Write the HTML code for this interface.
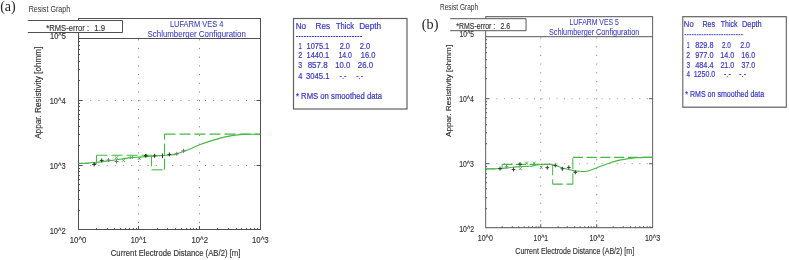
<!DOCTYPE html>
<html><head><meta charset="utf-8"><style>
html,body{margin:0;padding:0;background:#fff;}
body{width:789px;height:260px;overflow:hidden;position:relative;}
svg{position:absolute;left:0;top:0;filter:blur(0.3px);}
svg text{font-family:'Liberation Sans', sans-serif;}
</style></head><body>
<svg width="789" height="260" viewBox="0 0 789 260">
<rect width="789" height="260" fill="#fff"/>
<g id="ga">
<rect x="78.5" y="18.5" width="182" height="211" fill="#fff" stroke="#505050" stroke-width="1"/>
<line x1="78.5" y1="38.5" x2="260.5" y2="38.5" stroke="#505050" stroke-width="1" />
<line x1="82" y1="165.5" x2="257" y2="165.5" stroke="#8a8a8a" stroke-width="1" stroke-dasharray="1 7.2"/>
<line x1="82" y1="100.5" x2="257" y2="100.5" stroke="#8a8a8a" stroke-width="1" stroke-dasharray="1 7.2"/>
<line x1="138.5" y1="39.2" x2="138.5" y2="228" stroke="#8a8a8a" stroke-width="1" stroke-dasharray="1.2 7.5"/>
<line x1="199.5" y1="39.2" x2="199.5" y2="228" stroke="#8a8a8a" stroke-width="1" stroke-dasharray="1.2 7.5"/>
<line x1="78.5" y1="210.5" x2="80" y2="210.5" stroke="#505050" stroke-width="1" />
<line x1="78.5" y1="199.5" x2="80" y2="199.5" stroke="#505050" stroke-width="1" />
<line x1="78.5" y1="190.5" x2="80" y2="190.5" stroke="#505050" stroke-width="1" />
<line x1="78.5" y1="184.5" x2="80" y2="184.5" stroke="#505050" stroke-width="1" />
<line x1="78.5" y1="179.5" x2="80" y2="179.5" stroke="#505050" stroke-width="1" />
<line x1="78.5" y1="175.5" x2="80" y2="175.5" stroke="#505050" stroke-width="1" />
<line x1="78.5" y1="171.5" x2="80" y2="171.5" stroke="#505050" stroke-width="1" />
<line x1="78.5" y1="168.5" x2="80" y2="168.5" stroke="#505050" stroke-width="1" />
<line x1="78.5" y1="165.5" x2="82" y2="165.5" stroke="#505050" stroke-width="1" />
<line x1="256.5" y1="165.5" x2="260.5" y2="165.5" stroke="#505050" stroke-width="1" />
<line x1="78.5" y1="145.5" x2="80" y2="145.5" stroke="#505050" stroke-width="1" />
<line x1="78.5" y1="134.5" x2="80" y2="134.5" stroke="#505050" stroke-width="1" />
<line x1="78.5" y1="126.5" x2="80" y2="126.5" stroke="#505050" stroke-width="1" />
<line x1="78.5" y1="119.5" x2="80" y2="119.5" stroke="#505050" stroke-width="1" />
<line x1="78.5" y1="114.5" x2="80" y2="114.5" stroke="#505050" stroke-width="1" />
<line x1="78.5" y1="110.5" x2="80" y2="110.5" stroke="#505050" stroke-width="1" />
<line x1="78.5" y1="106.5" x2="80" y2="106.5" stroke="#505050" stroke-width="1" />
<line x1="78.5" y1="103.5" x2="80" y2="103.5" stroke="#505050" stroke-width="1" />
<line x1="78.5" y1="100.5" x2="82" y2="100.5" stroke="#505050" stroke-width="1" />
<line x1="256.5" y1="100.5" x2="260.5" y2="100.5" stroke="#505050" stroke-width="1" />
<line x1="78.5" y1="80.5" x2="80" y2="80.5" stroke="#505050" stroke-width="1" />
<line x1="78.5" y1="69.5" x2="80" y2="69.5" stroke="#505050" stroke-width="1" />
<line x1="78.5" y1="61.5" x2="80" y2="61.5" stroke="#505050" stroke-width="1" />
<line x1="78.5" y1="54.5" x2="80" y2="54.5" stroke="#505050" stroke-width="1" />
<line x1="78.5" y1="49.5" x2="80" y2="49.5" stroke="#505050" stroke-width="1" />
<line x1="78.5" y1="45.5" x2="80" y2="45.5" stroke="#505050" stroke-width="1" />
<line x1="78.5" y1="41.5" x2="80" y2="41.5" stroke="#505050" stroke-width="1" />
<line x1="96.5" y1="228" x2="96.5" y2="229.5" stroke="#505050" stroke-width="1" />
<line x1="107.5" y1="228" x2="107.5" y2="229.5" stroke="#505050" stroke-width="1" />
<line x1="114.5" y1="228" x2="114.5" y2="229.5" stroke="#505050" stroke-width="1" />
<line x1="120.5" y1="228" x2="120.5" y2="229.5" stroke="#505050" stroke-width="1" />
<line x1="125.5" y1="228" x2="125.5" y2="229.5" stroke="#505050" stroke-width="1" />
<line x1="129.5" y1="228" x2="129.5" y2="229.5" stroke="#505050" stroke-width="1" />
<line x1="133.5" y1="228" x2="133.5" y2="229.5" stroke="#505050" stroke-width="1" />
<line x1="136.5" y1="228" x2="136.5" y2="229.5" stroke="#505050" stroke-width="1" />
<line x1="138.5" y1="226" x2="138.5" y2="229.5" stroke="#505050" stroke-width="1" />
<line x1="157.5" y1="228" x2="157.5" y2="229.5" stroke="#505050" stroke-width="1" />
<line x1="167.5" y1="228" x2="167.5" y2="229.5" stroke="#505050" stroke-width="1" />
<line x1="175.5" y1="228" x2="175.5" y2="229.5" stroke="#505050" stroke-width="1" />
<line x1="181.5" y1="228" x2="181.5" y2="229.5" stroke="#505050" stroke-width="1" />
<line x1="186.5" y1="228" x2="186.5" y2="229.5" stroke="#505050" stroke-width="1" />
<line x1="190.5" y1="228" x2="190.5" y2="229.5" stroke="#505050" stroke-width="1" />
<line x1="193.5" y1="228" x2="193.5" y2="229.5" stroke="#505050" stroke-width="1" />
<line x1="196.5" y1="228" x2="196.5" y2="229.5" stroke="#505050" stroke-width="1" />
<line x1="199.5" y1="226" x2="199.5" y2="229.5" stroke="#505050" stroke-width="1" />
<line x1="217.5" y1="228" x2="217.5" y2="229.5" stroke="#505050" stroke-width="1" />
<line x1="228.5" y1="228" x2="228.5" y2="229.5" stroke="#505050" stroke-width="1" />
<line x1="236.5" y1="228" x2="236.5" y2="229.5" stroke="#505050" stroke-width="1" />
<line x1="241.5" y1="228" x2="241.5" y2="229.5" stroke="#505050" stroke-width="1" />
<line x1="246.5" y1="228" x2="246.5" y2="229.5" stroke="#505050" stroke-width="1" />
<line x1="250.5" y1="228" x2="250.5" y2="229.5" stroke="#505050" stroke-width="1" />
<line x1="254.5" y1="228" x2="254.5" y2="229.5" stroke="#505050" stroke-width="1" />
<line x1="257.5" y1="228" x2="257.5" y2="229.5" stroke="#505050" stroke-width="1" />
<rect x="27.8" y="20.5" width="94.7" height="12" fill="#fff"/>
<path d="M27.8,20.5H122.5V32.5H27.8" fill="none" stroke="#505050" stroke-width="1"/>
<text x="50.04" y="39.00" font-size="9.4" fill="#333" textLength="15.87" lengthAdjust="spacingAndGlyphs" style="font-family:'Liberation Sans', sans-serif" stroke="#333" stroke-width="0.15" >10^5</text>
<text x="49.64" y="103.80" font-size="9.4" fill="#333" textLength="15.90" lengthAdjust="spacingAndGlyphs" style="font-family:'Liberation Sans', sans-serif" stroke="#333" stroke-width="0.15" >10^4</text>
<text x="49.64" y="168.60" font-size="9.4" fill="#333" textLength="16.02" lengthAdjust="spacingAndGlyphs" style="font-family:'Liberation Sans', sans-serif" stroke="#333" stroke-width="0.15" >10^3</text>
<text x="49.63" y="233.60" font-size="9.4" fill="#333" textLength="16.17" lengthAdjust="spacingAndGlyphs" style="font-family:'Liberation Sans', sans-serif" stroke="#333" stroke-width="0.15" >10^2</text>
<text x="69.82" y="242.70" font-size="9.4" fill="#333" textLength="16.51" lengthAdjust="spacingAndGlyphs" style="font-family:'Liberation Sans', sans-serif" stroke="#333" stroke-width="0.15" >10^0</text>
<text x="130.75" y="242.80" font-size="9.4" fill="#333" textLength="15.74" lengthAdjust="spacingAndGlyphs" style="font-family:'Liberation Sans', sans-serif" stroke="#333" stroke-width="0.15" >10^1</text>
<text x="191.53" y="242.80" font-size="9.4" fill="#333" textLength="16.38" lengthAdjust="spacingAndGlyphs" style="font-family:'Liberation Sans', sans-serif" stroke="#333" stroke-width="0.15" >10^2</text>
<text x="252.02" y="242.80" font-size="9.4" fill="#333" textLength="16.66" lengthAdjust="spacingAndGlyphs" style="font-family:'Liberation Sans', sans-serif" stroke="#333" stroke-width="0.15" >10^3</text>
<text x="110.81" y="255.50" font-size="9.2" fill="#333" textLength="129.56" lengthAdjust="spacingAndGlyphs" style="font-family:'Liberation Sans', sans-serif" stroke="#333" stroke-width="0.15" >Current Electrode Distance (AB/2) [m]</text>
<g transform="translate(41.2,139) rotate(-90)"><text x="0.16" y="0.00" font-size="8.6" fill="#333" textLength="92.23" lengthAdjust="spacingAndGlyphs" style="font-family:'Liberation Sans', sans-serif" stroke="#333" stroke-width="0.15" >Appar. Resistivity [ohmm]</text></g>
<text x="28.63" y="11.60" font-size="8.6" fill="#303038" textLength="41.54" lengthAdjust="spacingAndGlyphs" style="font-family:'Liberation Sans', sans-serif" >Resist Graph</text>
<text x="46.35" y="30.60" font-size="9.4" fill="#333" textLength="42.65" lengthAdjust="spacingAndGlyphs" style="font-family:'Liberation Sans', sans-serif" stroke="#333" stroke-width="0.15" >*RMS-error :</text>
<text x="94.32" y="30.60" font-size="9.4" fill="#333" textLength="10.84" lengthAdjust="spacingAndGlyphs" style="font-family:'Liberation Sans', sans-serif" stroke="#333" stroke-width="0.15" >1.9</text>
<text x="169.90" y="26.50" font-size="9.2" fill="#3636c0" textLength="53.62" lengthAdjust="spacingAndGlyphs" style="font-family:'Liberation Sans', sans-serif" stroke="#3636c0" stroke-width="0.05" >LUFARM VES 4</text>
<text x="147.54" y="36.50" font-size="9.2" fill="#3636c0" textLength="98.28" lengthAdjust="spacingAndGlyphs" style="font-family:'Liberation Sans', sans-serif" stroke="#3636c0" stroke-width="0.05" >Schlumberger Configuration</text>
<rect x="293.5" y="18.5" width="113.5" height="90.5" fill="#fff" stroke="#606060" stroke-width="1.2"/>
<text x="295.64" y="28.50" font-size="9.3" fill="#3636c0" textLength="10.51" lengthAdjust="spacingAndGlyphs" style="font-family:'Liberation Sans', sans-serif" stroke="#3636c0" stroke-width="0.2" >No</text>
<text x="315.55" y="28.50" font-size="9.3" fill="#3636c0" textLength="14.53" lengthAdjust="spacingAndGlyphs" style="font-family:'Liberation Sans', sans-serif" stroke="#3636c0" stroke-width="0.2" >Res</text>
<text x="336.01" y="28.50" font-size="9.3" fill="#3636c0" textLength="18.08" lengthAdjust="spacingAndGlyphs" style="font-family:'Liberation Sans', sans-serif" stroke="#3636c0" stroke-width="0.2" >Thick</text>
<text x="359.14" y="28.50" font-size="9.3" fill="#3636c0" textLength="21.92" lengthAdjust="spacingAndGlyphs" style="font-family:'Liberation Sans', sans-serif" stroke="#3636c0" stroke-width="0.2" >Depth</text>
<line x1="296" y1="36.5" x2="362" y2="36.5" stroke="#3636c0" stroke-width="1" stroke-dasharray="1.9 0.77"/>
<text x="298.46" y="48.50" font-size="9.3" fill="#3636c0" textLength="3.23" lengthAdjust="spacingAndGlyphs" style="font-family:'Liberation Sans', sans-serif" stroke="#3636c0" stroke-width="0.2" >1</text>
<text x="306.54" y="48.50" font-size="9.3" fill="#3636c0" textLength="22.72" lengthAdjust="spacingAndGlyphs" style="font-family:'Liberation Sans', sans-serif" stroke="#3636c0" stroke-width="0.2" >1075.1</text>
<text x="339.63" y="48.50" font-size="9.3" fill="#3636c0" textLength="10.27" lengthAdjust="spacingAndGlyphs" style="font-family:'Liberation Sans', sans-serif" stroke="#3636c0" stroke-width="0.2" >2.0</text>
<text x="359.72" y="48.50" font-size="9.3" fill="#3636c0" textLength="10.48" lengthAdjust="spacingAndGlyphs" style="font-family:'Liberation Sans', sans-serif" stroke="#3636c0" stroke-width="0.2" >2.0</text>
<text x="298.14" y="58.40" font-size="9.3" fill="#3636c0" textLength="4.03" lengthAdjust="spacingAndGlyphs" style="font-family:'Liberation Sans', sans-serif" stroke="#3636c0" stroke-width="0.2" >2</text>
<text x="306.54" y="58.40" font-size="9.3" fill="#3636c0" textLength="22.72" lengthAdjust="spacingAndGlyphs" style="font-family:'Liberation Sans', sans-serif" stroke="#3636c0" stroke-width="0.2" >1440.1</text>
<text x="338.48" y="58.40" font-size="9.3" fill="#3636c0" textLength="13.40" lengthAdjust="spacingAndGlyphs" style="font-family:'Liberation Sans', sans-serif" stroke="#3636c0" stroke-width="0.2" >14.0</text>
<text x="360.74" y="58.40" font-size="9.3" fill="#3636c0" textLength="14.57" lengthAdjust="spacingAndGlyphs" style="font-family:'Liberation Sans', sans-serif" stroke="#3636c0" stroke-width="0.2" >16.0</text>
<text x="298.22" y="68.30" font-size="9.3" fill="#3636c0" textLength="3.91" lengthAdjust="spacingAndGlyphs" style="font-family:'Liberation Sans', sans-serif" stroke="#3636c0" stroke-width="0.2" >3</text>
<text x="307.64" y="68.30" font-size="9.3" fill="#3636c0" textLength="20.00" lengthAdjust="spacingAndGlyphs" style="font-family:'Liberation Sans', sans-serif" stroke="#3636c0" stroke-width="0.2" >857.8</text>
<text x="335.22" y="68.30" font-size="9.3" fill="#3636c0" textLength="15.00" lengthAdjust="spacingAndGlyphs" style="font-family:'Liberation Sans', sans-serif" stroke="#3636c0" stroke-width="0.2" >10.0</text>
<text x="357.81" y="68.30" font-size="9.3" fill="#3636c0" textLength="15.32" lengthAdjust="spacingAndGlyphs" style="font-family:'Liberation Sans', sans-serif" stroke="#3636c0" stroke-width="0.2" >26.0</text>
<text x="298.31" y="78.60" font-size="9.3" fill="#3636c0" textLength="4.12" lengthAdjust="spacingAndGlyphs" style="font-family:'Liberation Sans', sans-serif" stroke="#3636c0" stroke-width="0.2" >4</text>
<text x="306.09" y="78.60" font-size="9.3" fill="#3636c0" textLength="23.38" lengthAdjust="spacingAndGlyphs" style="font-family:'Liberation Sans', sans-serif" stroke="#3636c0" stroke-width="0.2" >3045.1</text>
<text x="339.57" y="78.60" font-size="9.3" fill="#3636c0" textLength="6.96" lengthAdjust="spacingAndGlyphs" style="font-family:'Liberation Sans', sans-serif" stroke="#3636c0" stroke-width="0.2" >-.-</text>
<text x="356.17" y="78.60" font-size="9.3" fill="#3636c0" textLength="6.96" lengthAdjust="spacingAndGlyphs" style="font-family:'Liberation Sans', sans-serif" stroke="#3636c0" stroke-width="0.2" >-.-</text>
<text x="295.95" y="99.30" font-size="9.3" fill="#3636c0" textLength="86.08" lengthAdjust="spacingAndGlyphs" style="font-family:'Liberation Sans', sans-serif" stroke="#3636c0" stroke-width="0.2" >* RMS on smoothed data</text>
<line x1="78.30" y1="163.46" x2="96.50" y2="163.46" stroke="#46b846" stroke-width="1.1" stroke-dasharray="11 4"/>
<line x1="96.50" y1="163.46" x2="96.50" y2="155.22" stroke="#46b846" stroke-width="1.1" stroke-dasharray="11 4"/>
<line x1="96.50" y1="155.22" x2="151.50" y2="155.22" stroke="#46b846" stroke-width="1.1" stroke-dasharray="11 4"/>
<line x1="151.50" y1="155.22" x2="151.50" y2="169.82" stroke="#46b846" stroke-width="1.1" stroke-dasharray="11 4"/>
<line x1="151.50" y1="169.82" x2="164.50" y2="169.82" stroke="#46b846" stroke-width="1.1" stroke-dasharray="11 4"/>
<line x1="164.50" y1="169.82" x2="164.50" y2="134.11" stroke="#46b846" stroke-width="1.1" stroke-dasharray="11 4"/>
<line x1="164.50" y1="134.11" x2="260.50" y2="134.11" stroke="#46b846" stroke-width="1.1" stroke-dasharray="11 4"/>
<path d="M78.50,163.40 C80.00,163.33 84.50,163.18 87.50,163.00 C90.50,162.82 92.65,162.70 96.50,162.30 C100.35,161.90 106.35,161.15 110.60,160.60 C114.85,160.05 118.53,159.50 122.00,159.00 C125.47,158.50 128.40,157.92 131.40,157.60 C134.40,157.28 136.83,157.32 140.00,157.10 C143.17,156.88 146.37,156.58 150.40,156.30 C154.43,156.02 160.77,155.62 164.20,155.40 C167.63,155.18 168.90,155.25 171.00,155.00 C173.10,154.75 174.72,154.50 176.80,153.90 C178.88,153.30 181.30,152.22 183.50,151.40 C185.70,150.58 187.33,150.10 190.00,149.00 C192.67,147.90 195.45,146.32 199.50,144.80 C203.55,143.28 209.78,141.27 214.30,139.90 C218.82,138.53 222.32,137.48 226.60,136.60 C230.88,135.72 236.10,134.98 240.00,134.60 C243.90,134.22 246.58,134.35 250.00,134.30 C253.42,134.25 258.75,134.30 260.50,134.30" fill="none" stroke="#46b846" stroke-width="1.1"/>
<path d="M92.20,164.50H96.20M94.20,162.50V166.50" stroke="#333" stroke-width="1" fill="none"/>
<path d="M99.70,160.40H103.70M101.70,158.40V162.40" stroke="#333" stroke-width="1" fill="none"/>
<path d="M152.60,155.80H156.60M154.60,153.80V157.80" stroke="#333" stroke-width="1" fill="none"/>
<path d="M167.40,154.40H171.40M169.40,152.40V156.40" stroke="#333" stroke-width="1" fill="none"/>
<path d="M106.40,160.00H110.40M108.40,158.00V162.00" stroke="#777" stroke-width="1" fill="none"/>
<path d="M114.50,161.50H118.50M116.50,159.50V163.50" stroke="#777" stroke-width="1" fill="none"/>
<path d="M174.80,153.80H178.80M176.80,151.80V155.80" stroke="#777" stroke-width="1" fill="none"/>
<path d="M181.50,150.80H185.50M183.50,148.80V152.80" stroke="#777" stroke-width="1" fill="none"/>
<path d="M144.00,155.80H147.60M145.80,154.00V157.60" stroke="#1f4f1f" stroke-width="1.6" fill="none"/>
<line x1="162.5" y1="153.5" x2="162.5" y2="158.2" stroke="#333" stroke-width="1" />
<path d="M115.00,156.20L118.00,159.20M115.00,159.20L118.00,156.20" stroke="#46b846" stroke-width="1" fill="none"/>
<path d="M121.90,158.90L124.90,161.90M121.90,161.90L124.90,158.90" stroke="#46b846" stroke-width="1" fill="none"/>
<path d="M129.90,156.00L132.90,159.00M129.90,159.00L132.90,156.00" stroke="#46b846" stroke-width="1" fill="none"/>
<path d="M137.70,157.00L140.70,160.00M137.70,160.00L140.70,157.00" stroke="#46b846" stroke-width="1" fill="none"/>
</g>
<g id="gb" transform="translate(413.66,-1.8) scale(0.9175,1)">
<rect x="78.5" y="18.5" width="182" height="211" fill="#fff" stroke="#505050" stroke-width="1"/>
<line x1="78.5" y1="38.5" x2="260.5" y2="38.5" stroke="#505050" stroke-width="1" />
<line x1="82" y1="165.5" x2="257" y2="165.5" stroke="#8a8a8a" stroke-width="1" stroke-dasharray="1 7.2"/>
<line x1="82" y1="100.5" x2="257" y2="100.5" stroke="#8a8a8a" stroke-width="1" stroke-dasharray="1 7.2"/>
<line x1="138.5" y1="39.2" x2="138.5" y2="228" stroke="#8a8a8a" stroke-width="1" stroke-dasharray="1.2 7.5"/>
<line x1="199.5" y1="39.2" x2="199.5" y2="228" stroke="#8a8a8a" stroke-width="1" stroke-dasharray="1.2 7.5"/>
<line x1="78.5" y1="210.5" x2="80" y2="210.5" stroke="#505050" stroke-width="1" />
<line x1="78.5" y1="199.5" x2="80" y2="199.5" stroke="#505050" stroke-width="1" />
<line x1="78.5" y1="190.5" x2="80" y2="190.5" stroke="#505050" stroke-width="1" />
<line x1="78.5" y1="184.5" x2="80" y2="184.5" stroke="#505050" stroke-width="1" />
<line x1="78.5" y1="179.5" x2="80" y2="179.5" stroke="#505050" stroke-width="1" />
<line x1="78.5" y1="175.5" x2="80" y2="175.5" stroke="#505050" stroke-width="1" />
<line x1="78.5" y1="171.5" x2="80" y2="171.5" stroke="#505050" stroke-width="1" />
<line x1="78.5" y1="168.5" x2="80" y2="168.5" stroke="#505050" stroke-width="1" />
<line x1="78.5" y1="165.5" x2="82" y2="165.5" stroke="#505050" stroke-width="1" />
<line x1="256.5" y1="165.5" x2="260.5" y2="165.5" stroke="#505050" stroke-width="1" />
<line x1="78.5" y1="145.5" x2="80" y2="145.5" stroke="#505050" stroke-width="1" />
<line x1="78.5" y1="134.5" x2="80" y2="134.5" stroke="#505050" stroke-width="1" />
<line x1="78.5" y1="126.5" x2="80" y2="126.5" stroke="#505050" stroke-width="1" />
<line x1="78.5" y1="119.5" x2="80" y2="119.5" stroke="#505050" stroke-width="1" />
<line x1="78.5" y1="114.5" x2="80" y2="114.5" stroke="#505050" stroke-width="1" />
<line x1="78.5" y1="110.5" x2="80" y2="110.5" stroke="#505050" stroke-width="1" />
<line x1="78.5" y1="106.5" x2="80" y2="106.5" stroke="#505050" stroke-width="1" />
<line x1="78.5" y1="103.5" x2="80" y2="103.5" stroke="#505050" stroke-width="1" />
<line x1="78.5" y1="100.5" x2="82" y2="100.5" stroke="#505050" stroke-width="1" />
<line x1="256.5" y1="100.5" x2="260.5" y2="100.5" stroke="#505050" stroke-width="1" />
<line x1="78.5" y1="80.5" x2="80" y2="80.5" stroke="#505050" stroke-width="1" />
<line x1="78.5" y1="69.5" x2="80" y2="69.5" stroke="#505050" stroke-width="1" />
<line x1="78.5" y1="61.5" x2="80" y2="61.5" stroke="#505050" stroke-width="1" />
<line x1="78.5" y1="54.5" x2="80" y2="54.5" stroke="#505050" stroke-width="1" />
<line x1="78.5" y1="49.5" x2="80" y2="49.5" stroke="#505050" stroke-width="1" />
<line x1="78.5" y1="45.5" x2="80" y2="45.5" stroke="#505050" stroke-width="1" />
<line x1="78.5" y1="41.5" x2="80" y2="41.5" stroke="#505050" stroke-width="1" />
<line x1="96.5" y1="228" x2="96.5" y2="229.5" stroke="#505050" stroke-width="1" />
<line x1="107.5" y1="228" x2="107.5" y2="229.5" stroke="#505050" stroke-width="1" />
<line x1="114.5" y1="228" x2="114.5" y2="229.5" stroke="#505050" stroke-width="1" />
<line x1="120.5" y1="228" x2="120.5" y2="229.5" stroke="#505050" stroke-width="1" />
<line x1="125.5" y1="228" x2="125.5" y2="229.5" stroke="#505050" stroke-width="1" />
<line x1="129.5" y1="228" x2="129.5" y2="229.5" stroke="#505050" stroke-width="1" />
<line x1="133.5" y1="228" x2="133.5" y2="229.5" stroke="#505050" stroke-width="1" />
<line x1="136.5" y1="228" x2="136.5" y2="229.5" stroke="#505050" stroke-width="1" />
<line x1="138.5" y1="226" x2="138.5" y2="229.5" stroke="#505050" stroke-width="1" />
<line x1="157.5" y1="228" x2="157.5" y2="229.5" stroke="#505050" stroke-width="1" />
<line x1="167.5" y1="228" x2="167.5" y2="229.5" stroke="#505050" stroke-width="1" />
<line x1="175.5" y1="228" x2="175.5" y2="229.5" stroke="#505050" stroke-width="1" />
<line x1="181.5" y1="228" x2="181.5" y2="229.5" stroke="#505050" stroke-width="1" />
<line x1="186.5" y1="228" x2="186.5" y2="229.5" stroke="#505050" stroke-width="1" />
<line x1="190.5" y1="228" x2="190.5" y2="229.5" stroke="#505050" stroke-width="1" />
<line x1="193.5" y1="228" x2="193.5" y2="229.5" stroke="#505050" stroke-width="1" />
<line x1="196.5" y1="228" x2="196.5" y2="229.5" stroke="#505050" stroke-width="1" />
<line x1="199.5" y1="226" x2="199.5" y2="229.5" stroke="#505050" stroke-width="1" />
<line x1="217.5" y1="228" x2="217.5" y2="229.5" stroke="#505050" stroke-width="1" />
<line x1="228.5" y1="228" x2="228.5" y2="229.5" stroke="#505050" stroke-width="1" />
<line x1="236.5" y1="228" x2="236.5" y2="229.5" stroke="#505050" stroke-width="1" />
<line x1="241.5" y1="228" x2="241.5" y2="229.5" stroke="#505050" stroke-width="1" />
<line x1="246.5" y1="228" x2="246.5" y2="229.5" stroke="#505050" stroke-width="1" />
<line x1="250.5" y1="228" x2="250.5" y2="229.5" stroke="#505050" stroke-width="1" />
<line x1="254.5" y1="228" x2="254.5" y2="229.5" stroke="#505050" stroke-width="1" />
<line x1="257.5" y1="228" x2="257.5" y2="229.5" stroke="#505050" stroke-width="1" />
<rect x="27.8" y="20.5" width="94.7" height="12" fill="#fff"/>
<path d="M27.8,20.5H122.5V32.5H27.8" fill="none" stroke="#505050" stroke-width="1"/>
<text x="50.04" y="39.00" font-size="9.4" fill="#333" textLength="15.87" lengthAdjust="spacingAndGlyphs" style="font-family:'Liberation Sans', sans-serif" stroke="#333" stroke-width="0.15" >10^5</text>
<text x="49.64" y="103.80" font-size="9.4" fill="#333" textLength="15.90" lengthAdjust="spacingAndGlyphs" style="font-family:'Liberation Sans', sans-serif" stroke="#333" stroke-width="0.15" >10^4</text>
<text x="49.64" y="168.60" font-size="9.4" fill="#333" textLength="16.02" lengthAdjust="spacingAndGlyphs" style="font-family:'Liberation Sans', sans-serif" stroke="#333" stroke-width="0.15" >10^3</text>
<text x="49.63" y="233.60" font-size="9.4" fill="#333" textLength="16.17" lengthAdjust="spacingAndGlyphs" style="font-family:'Liberation Sans', sans-serif" stroke="#333" stroke-width="0.15" >10^2</text>
<text x="69.82" y="242.70" font-size="9.4" fill="#333" textLength="16.51" lengthAdjust="spacingAndGlyphs" style="font-family:'Liberation Sans', sans-serif" stroke="#333" stroke-width="0.15" >10^0</text>
<text x="130.75" y="242.80" font-size="9.4" fill="#333" textLength="15.74" lengthAdjust="spacingAndGlyphs" style="font-family:'Liberation Sans', sans-serif" stroke="#333" stroke-width="0.15" >10^1</text>
<text x="191.53" y="242.80" font-size="9.4" fill="#333" textLength="16.38" lengthAdjust="spacingAndGlyphs" style="font-family:'Liberation Sans', sans-serif" stroke="#333" stroke-width="0.15" >10^2</text>
<text x="252.02" y="242.80" font-size="9.4" fill="#333" textLength="16.66" lengthAdjust="spacingAndGlyphs" style="font-family:'Liberation Sans', sans-serif" stroke="#333" stroke-width="0.15" >10^3</text>
<text x="110.81" y="255.50" font-size="9.2" fill="#333" textLength="129.56" lengthAdjust="spacingAndGlyphs" style="font-family:'Liberation Sans', sans-serif" stroke="#333" stroke-width="0.15" >Current Electrode Distance (AB/2) [m]</text>
<g transform="translate(41.2,139) rotate(-90)"><text x="0.16" y="0.00" font-size="8.6" fill="#333" textLength="92.23" lengthAdjust="spacingAndGlyphs" style="font-family:'Liberation Sans', sans-serif" stroke="#333" stroke-width="0.15" >Appar. Resistivity [ohmm]</text></g>
<text x="28.63" y="11.60" font-size="8.6" fill="#303038" textLength="41.54" lengthAdjust="spacingAndGlyphs" style="font-family:'Liberation Sans', sans-serif" >Resist Graph</text>
<text x="46.35" y="30.60" font-size="9.4" fill="#333" textLength="42.65" lengthAdjust="spacingAndGlyphs" style="font-family:'Liberation Sans', sans-serif" stroke="#333" stroke-width="0.15" >*RMS-error :</text>
<text x="94.52" y="30.60" font-size="9.4" fill="#333" textLength="10.63" lengthAdjust="spacingAndGlyphs" style="font-family:'Liberation Sans', sans-serif" stroke="#333" stroke-width="0.15" >2.6</text>
<text x="169.90" y="26.50" font-size="9.2" fill="#3636c0" textLength="53.69" lengthAdjust="spacingAndGlyphs" style="font-family:'Liberation Sans', sans-serif" stroke="#3636c0" stroke-width="0.05" >LUFARM VES 5</text>
<text x="147.54" y="36.50" font-size="9.2" fill="#3636c0" textLength="98.28" lengthAdjust="spacingAndGlyphs" style="font-family:'Liberation Sans', sans-serif" stroke="#3636c0" stroke-width="0.05" >Schlumberger Configuration</text>
<rect x="293.34" y="18.5" width="112.81" height="90.5" fill="#fff" stroke="#606060" stroke-width="1.2"/>
<text x="294.51" y="28.50" font-size="9.3" fill="#3636c0" textLength="10.66" lengthAdjust="spacingAndGlyphs" style="font-family:'Liberation Sans', sans-serif" stroke="#3636c0" stroke-width="0.2" >No</text>
<text x="314.72" y="28.50" font-size="9.3" fill="#3636c0" textLength="13.78" lengthAdjust="spacingAndGlyphs" style="font-family:'Liberation Sans', sans-serif" stroke="#3636c0" stroke-width="0.2" >Res</text>
<text x="334.77" y="28.50" font-size="9.3" fill="#3636c0" textLength="18.09" lengthAdjust="spacingAndGlyphs" style="font-family:'Liberation Sans', sans-serif" stroke="#3636c0" stroke-width="0.2" >Thick</text>
<text x="357.86" y="28.50" font-size="9.3" fill="#3636c0" textLength="21.51" lengthAdjust="spacingAndGlyphs" style="font-family:'Liberation Sans', sans-serif" stroke="#3636c0" stroke-width="0.2" >Depth</text>
<line x1="295.19" y1="36.5" x2="359.50" y2="36.5" stroke="#3636c0" stroke-width="1" stroke-dasharray="1.9 0.77"/>
<text x="297.60" y="49.70" font-size="9.3" fill="#3636c0" textLength="3.01" lengthAdjust="spacingAndGlyphs" style="font-family:'Liberation Sans', sans-serif" stroke="#3636c0" stroke-width="0.2" >1</text>
<text x="306.80" y="49.70" font-size="9.3" fill="#3636c0" textLength="20.03" lengthAdjust="spacingAndGlyphs" style="font-family:'Liberation Sans', sans-serif" stroke="#3636c0" stroke-width="0.2" >829.8</text>
<text x="336.03" y="49.70" font-size="9.3" fill="#3636c0" textLength="9.71" lengthAdjust="spacingAndGlyphs" style="font-family:'Liberation Sans', sans-serif" stroke="#3636c0" stroke-width="0.2" >2.0</text>
<text x="355.94" y="49.70" font-size="9.3" fill="#3636c0" textLength="10.64" lengthAdjust="spacingAndGlyphs" style="font-family:'Liberation Sans', sans-serif" stroke="#3636c0" stroke-width="0.2" >2.0</text>
<text x="297.20" y="59.50" font-size="9.3" fill="#3636c0" textLength="4.17" lengthAdjust="spacingAndGlyphs" style="font-family:'Liberation Sans', sans-serif" stroke="#3636c0" stroke-width="0.2" >2</text>
<text x="306.80" y="59.50" font-size="9.3" fill="#3636c0" textLength="20.03" lengthAdjust="spacingAndGlyphs" style="font-family:'Liberation Sans', sans-serif" stroke="#3636c0" stroke-width="0.2" >977.0</text>
<text x="334.15" y="59.50" font-size="9.3" fill="#3636c0" textLength="15.22" lengthAdjust="spacingAndGlyphs" style="font-family:'Liberation Sans', sans-serif" stroke="#3636c0" stroke-width="0.2" >14.0</text>
<text x="357.16" y="59.50" font-size="9.3" fill="#3636c0" textLength="14.99" lengthAdjust="spacingAndGlyphs" style="font-family:'Liberation Sans', sans-serif" stroke="#3636c0" stroke-width="0.2" >16.0</text>
<text x="297.28" y="69.50" font-size="9.3" fill="#3636c0" textLength="4.04" lengthAdjust="spacingAndGlyphs" style="font-family:'Liberation Sans', sans-serif" stroke="#3636c0" stroke-width="0.2" >3</text>
<text x="306.97" y="69.50" font-size="9.3" fill="#3636c0" textLength="19.78" lengthAdjust="spacingAndGlyphs" style="font-family:'Liberation Sans', sans-serif" stroke="#3636c0" stroke-width="0.2" >484.4</text>
<text x="334.35" y="69.50" font-size="9.3" fill="#3636c0" textLength="15.02" lengthAdjust="spacingAndGlyphs" style="font-family:'Liberation Sans', sans-serif" stroke="#3636c0" stroke-width="0.2" >21.0</text>
<text x="357.43" y="69.50" font-size="9.3" fill="#3636c0" textLength="14.71" lengthAdjust="spacingAndGlyphs" style="font-family:'Liberation Sans', sans-serif" stroke="#3636c0" stroke-width="0.2" >37.0</text>
<text x="297.40" y="79.30" font-size="9.3" fill="#3636c0" textLength="3.80" lengthAdjust="spacingAndGlyphs" style="font-family:'Liberation Sans', sans-serif" stroke="#3636c0" stroke-width="0.2" >4</text>
<text x="305.17" y="79.30" font-size="9.3" fill="#3636c0" textLength="23.58" lengthAdjust="spacingAndGlyphs" style="font-family:'Liberation Sans', sans-serif" stroke="#3636c0" stroke-width="0.2" >1250.0</text>
<text x="337.96" y="79.30" font-size="9.3" fill="#3636c0" textLength="7.86" lengthAdjust="spacingAndGlyphs" style="font-family:'Liberation Sans', sans-serif" stroke="#3636c0" stroke-width="0.2" >-.-</text>
<text x="354.64" y="79.30" font-size="9.3" fill="#3636c0" textLength="7.74" lengthAdjust="spacingAndGlyphs" style="font-family:'Liberation Sans', sans-serif" stroke="#3636c0" stroke-width="0.2" >-.-</text>
<text x="295.95" y="99.30" font-size="9.3" fill="#3636c0" textLength="86.08" lengthAdjust="spacingAndGlyphs" style="font-family:'Liberation Sans', sans-serif" stroke="#3636c0" stroke-width="0.2" >* RMS on smoothed data</text>
<line x1="78.30" y1="170.76" x2="96.50" y2="170.76" stroke="#46b846" stroke-width="1.1" stroke-dasharray="11 4"/>
<line x1="96.50" y1="170.76" x2="96.50" y2="166.16" stroke="#46b846" stroke-width="1.1" stroke-dasharray="11 4"/>
<line x1="96.50" y1="166.16" x2="151.50" y2="166.16" stroke="#46b846" stroke-width="1.1" stroke-dasharray="11 4"/>
<line x1="151.50" y1="166.16" x2="151.50" y2="185.93" stroke="#46b846" stroke-width="1.1" stroke-dasharray="11 4"/>
<line x1="151.50" y1="185.93" x2="173.50" y2="185.93" stroke="#46b846" stroke-width="1.1" stroke-dasharray="11 4"/>
<line x1="173.50" y1="185.93" x2="173.50" y2="159.21" stroke="#46b846" stroke-width="1.1" stroke-dasharray="11 4"/>
<line x1="173.50" y1="159.21" x2="260.50" y2="159.21" stroke="#46b846" stroke-width="1.1" stroke-dasharray="11 4"/>
<path d="M78.30,170.50 C80.03,170.50 85.53,170.55 88.65,170.50 C91.78,170.45 94.25,170.40 97.05,170.20 C99.84,170.00 102.93,169.55 105.44,169.30 C107.95,169.05 109.02,168.88 112.09,168.70 C115.16,168.52 121.06,168.33 123.86,168.20 C126.66,168.07 126.93,168.17 128.87,167.90 C130.82,167.63 133.14,166.90 135.52,166.60 C137.90,166.30 140.06,166.00 143.15,166.10 C146.24,166.20 150.96,166.63 154.05,167.20 C157.14,167.77 158.32,168.63 161.68,169.50 C165.04,170.37 170.94,171.80 174.21,172.40 C177.48,173.00 178.90,172.98 181.30,173.10 C183.69,173.22 185.66,173.67 188.60,173.10 C191.54,172.53 195.27,170.93 198.95,169.70 C202.64,168.47 207.06,166.87 210.72,165.70 C214.39,164.53 217.32,163.53 220.97,162.70 C224.62,161.87 228.96,161.22 232.63,160.70 C236.30,160.18 239.73,159.85 242.99,159.60 C246.24,159.35 249.29,159.27 252.14,159.20 C254.99,159.13 258.77,159.20 260.10,159.20" fill="none" stroke="#46b846" stroke-width="1.1"/>
<path d="M92.10,170.30H96.10M94.10,168.30V172.30" stroke="#333" stroke-width="1" fill="none"/>
<path d="M106.82,171.30H110.82M108.82,169.30V173.30" stroke="#333" stroke-width="1" fill="none"/>
<path d="M113.90,166.00H117.90M115.90,164.00V168.00" stroke="#333" stroke-width="1" fill="none"/>
<path d="M143.66,169.50H147.66M145.66,167.50V171.50" stroke="#333" stroke-width="1" fill="none"/>
<path d="M152.38,167.20H156.38M154.38,165.20V169.20" stroke="#333" stroke-width="1" fill="none"/>
<path d="M160.11,170.60H164.11M162.11,168.60V172.60" stroke="#333" stroke-width="1" fill="none"/>
<path d="M167.09,169.20H171.09M169.09,167.20V171.20" stroke="#333" stroke-width="1" fill="none"/>
<path d="M174.17,174.10H178.17M176.17,172.10V176.10" stroke="#333" stroke-width="1" fill="none"/>
<path d="M99.19,168.50H103.19M101.19,166.50V170.50" stroke="#888" stroke-width="1" fill="none"/>
<path d="M114.84,169.00L117.84,172.00M114.84,172.00L117.84,169.00" stroke="#46b846" stroke-width="1" fill="none"/>
<path d="M121.49,163.40L124.49,166.40M121.49,166.40L124.49,163.40" stroke="#46b846" stroke-width="1" fill="none"/>
<path d="M129.88,163.40L132.88,166.40M129.88,166.40L132.88,163.40" stroke="#46b846" stroke-width="1" fill="none"/>
<path d="M137.51,167.50L140.51,170.50M137.51,170.50L140.51,167.50" stroke="#46b846" stroke-width="1" fill="none"/>
</g>
<rect x="416" y="14" width="34.2" height="22" fill="#fff"/>
<text x="0.16" y="11.20" font-size="14.5" fill="#262626" textLength="15.67" lengthAdjust="spacingAndGlyphs" style="font-family:'Liberation Serif', serif" >(a)</text>
<text x="421.86" y="28.50" font-size="15" fill="#262626" textLength="16.63" lengthAdjust="spacingAndGlyphs" style="font-family:'Liberation Serif', serif" >(b)</text>
</svg>
</body></html>
